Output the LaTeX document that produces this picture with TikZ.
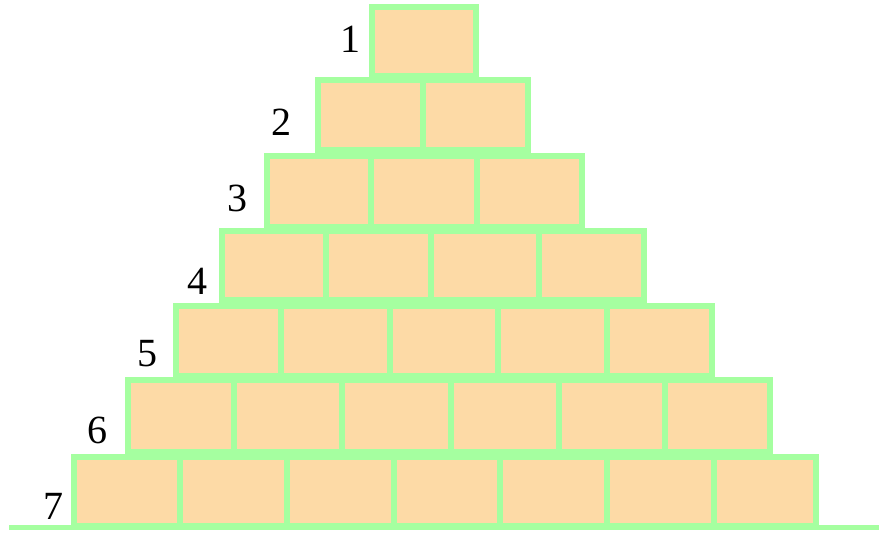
\documentclass[tikz,border=0pt]{standalone}
\usepackage{fontspec}
\setmainfont{Liberation Serif}
\usepackage{tikz}
\definecolor{brickfill}{RGB}{253,218,166}
\definecolor{brickline}{RGB}{165,255,160}

\begin{document}
\begin{tikzpicture}[x=1pt,y=-1pt,
    brick/.style={draw=brickline,fill=brickfill,line width=5.5pt},
    rowno/.style={font=\fontsize{40}{40}\selectfont,inner sep=0pt}]
	  \useasboundingbox (0,0) rectangle (879,534);
	  \draw[brickline,line width=5pt] (9,527.5) -- (879,527.5);
	  % row 7
	  \draw[brick] (74,457) rectangle (180,526);
	  \draw[brick] (180,457) rectangle (287,526);
	  \draw[brick] (287,457) rectangle (394,526);
	  \draw[brick] (394,457) rectangle (500,526);
	  \draw[brick] (500,457) rectangle (607,526);
	  \draw[brick] (607,457) rectangle (714,526);
	  \draw[brick] (714,457) rectangle (816,526);
	  % row 6
	  \draw[brick] (128,380) rectangle (234,452);
	  \draw[brick] (234,380) rectangle (342,452);
	  \draw[brick] (342,380) rectangle (451,452);
	  \draw[brick] (451,380) rectangle (559,452);
	  \draw[brick] (559,380) rectangle (665,452);
	  \draw[brick] (665,380) rectangle (770,452);
	  % row 5
	  \draw[brick] (176,306) rectangle (281,376);
	  \draw[brick] (281,306) rectangle (390,376);
	  \draw[brick] (390,306) rectangle (498,376);
	  \draw[brick] (498,306) rectangle (607,376);
	  \draw[brick] (607,306) rectangle (712,376);
	  % row 4
	  \draw[brick] (222,231) rectangle (326,300);
	  \draw[brick] (326,231) rectangle (431,300);
	  \draw[brick] (431,231) rectangle (539,300);
	  \draw[brick] (539,231) rectangle (644,300);
	  % row 3
	  \draw[brick] (267,156) rectangle (371,227);
	  \draw[brick] (371,156) rectangle (477,227);
	  \draw[brick] (477,156) rectangle (582,227);
	  % row 2
	  \draw[brick] (318,80) rectangle (423,150);
	  \draw[brick] (423,80) rectangle (528,150);
	  % row 1
	  \draw[brick] (372,7) rectangle (476,76);
	  % row numbers
	  \node[rowno] (n1) at (350,39) {1};
	  \node[rowno] (n2) at (281,122) {2};
	  \node[rowno] (n3) at (237,198) {3};
	  \node[rowno] (n4) at (197,281) {4};
	  \node[rowno] (n5) at (147,354) {5};
	  \node[rowno] (n6) at (97,430) {6};
	  \node[rowno] (n7) at (53,506) {7};
	\end{tikzpicture}
\end{document}
